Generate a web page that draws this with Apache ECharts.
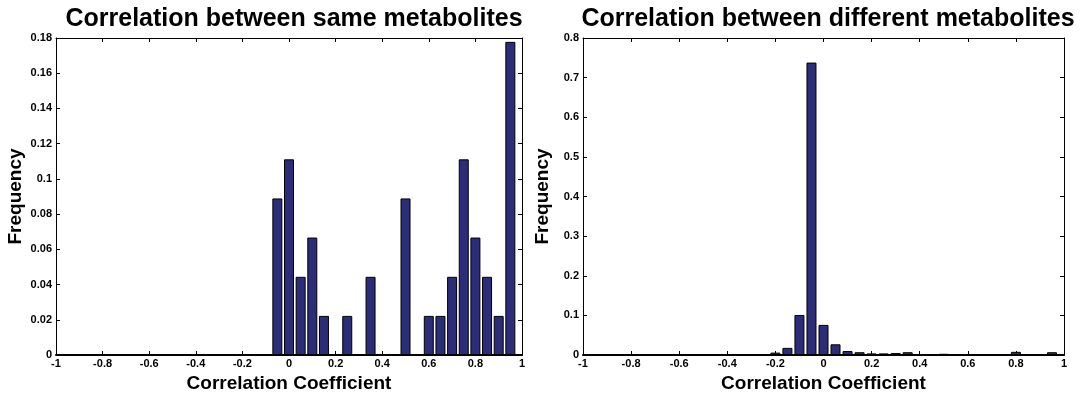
<!DOCTYPE html>
<html>
<head>
<meta charset="utf-8">
<script src="https://cdn.jsdelivr.net/npm/echarts@6/dist/echarts.min.js"></script>
<style>
  html, body { margin: 0; padding: 0; background: #fff; }
  #main { width: 1084px; height: 396px; }
</style>
</head>
<body>
<div id="main"></div>
<script>
// histogram bin centres and frequencies
const binsSame = [-0.05, 0, 0.05, 0.1, 0.15, 0.25, 0.35, 0.5, 0.6, 0.65, 0.7, 0.75, 0.8, 0.85, 0.9, 0.95];
const freqSame = [0.0889, 0.1111, 0.0444, 0.0667, 0.0222, 0.0222, 0.0444, 0.0889, 0.0222, 0.0222, 0.0444, 0.1111, 0.0667, 0.0444, 0.0222, 0.1778];

const binsDiff = [-0.2, -0.15, -0.1, -0.05, 0, 0.05, 0.1, 0.15, 0.2, 0.25, 0.3, 0.35, 0.5, 0.8, 0.95];
const freqDiff = [0.006, 0.018, 0.101, 0.738, 0.076, 0.027, 0.010, 0.007, 0.004, 0.004, 0.005, 0.007, 0.003, 0.008, 0.007];

const titles = ['Correlation between same metabolites', 'Correlation between different metabolites'];
const xName = 'Correlation Coefficient';
const yName = 'Frequency';

const font = 'Liberation Sans, Arial, Helvetica, sans-serif';
const barColor = '#2b2d78';

function pairs(xs, ys) {
  return xs.map((x, i) => [x, ys[i]]);
}

// bottom + top x axis for one grid (box like matlab)
function xAxes(gi) {
  const base = {
    gridIndex: gi, type: 'value', min: -1, max: 1, interval: 0.2,
    splitLine: { show: false },
    axisLine: { onZero: false, lineStyle: { color: '#000', width: 1 } },
    axisTick: { inside: true, length: 4, lineStyle: { color: '#000' } }
  };
  return [
    Object.assign({}, base, {
      position: 'bottom',
      axisLine: { onZero: false, lineStyle: { color: '#000', width: 2 } },
      axisLabel: { color: '#000', fontFamily: font, fontWeight: 'bold', fontSize: 11, margin: 3 },
      name: xName, nameLocation: 'middle', nameGap: 18,
      nameTextStyle: { color: '#000', fontFamily: font, fontWeight: 'bold', fontSize: 19 }
    }),
    Object.assign({}, base, { position: 'top', axisLabel: { show: false } })
  ];
}

function yAxes(gi, max, interval) {
  const base = {
    gridIndex: gi, type: 'value', min: 0, max: max, interval: interval,
    splitLine: { show: false },
    axisLine: { show: true, onZero: false, lineStyle: { color: '#000', width: 1 } },
    axisTick: { show: true, inside: true, length: 4, lineStyle: { color: '#000' } }
  };
  return [
    Object.assign({}, base, {
      position: 'left',
      axisLabel: { color: '#000', fontFamily: font, fontWeight: 'bold', fontSize: 11, margin: 4 },
      name: yName, nameLocation: 'middle', nameRotate: 90, nameGap: 31,
      nameTextStyle: { color: '#000', fontFamily: font, fontWeight: 'bold', fontSize: 19 }
    }),
    Object.assign({}, base, { position: 'right', axisLabel: { show: false } })
  ];
}

const chart = echarts.init(document.getElementById('main'));
chart.setOption({
  animation: false,
  backgroundColor: '#fff',
  title: [
    { text: titles[0], left: 289, top: 2, textAlign: 'center',
      textStyle: { color: '#000', fontFamily: font, fontWeight: 'bold', fontSize: 25 } },
    { text: titles[1], left: 823, top: 2, textAlign: 'center',
      textStyle: { color: '#000', fontFamily: font, fontWeight: 'bold', fontSize: 25 } }
  ],
  grid: [
    { left: 56, right: 562, top: 38, bottom: 41, containLabel: false, outerBoundsMode: 'none' },
    { left: 583, right: 20, top: 38, bottom: 41, containLabel: false, outerBoundsMode: 'none' }
  ],
  xAxis: xAxes(0).concat(xAxes(1)),
  yAxis: yAxes(0, 0.18, 0.02).concat(yAxes(1, 0.8, 0.1)),
  series: [
    {
      type: 'bar', xAxisIndex: 0, yAxisIndex: 0, barWidth: 10,
      data: pairs(binsSame, freqSame),
      itemStyle: { color: barColor, borderColor: '#000', borderWidth: 1 }
    },
    {
      type: 'bar', xAxisIndex: 2, yAxisIndex: 2, barWidth: 10,
      data: pairs(binsDiff, freqDiff),
      itemStyle: { color: barColor, borderColor: '#000', borderWidth: 1 }
    }
  ]
});
</script>
</body>
</html>
